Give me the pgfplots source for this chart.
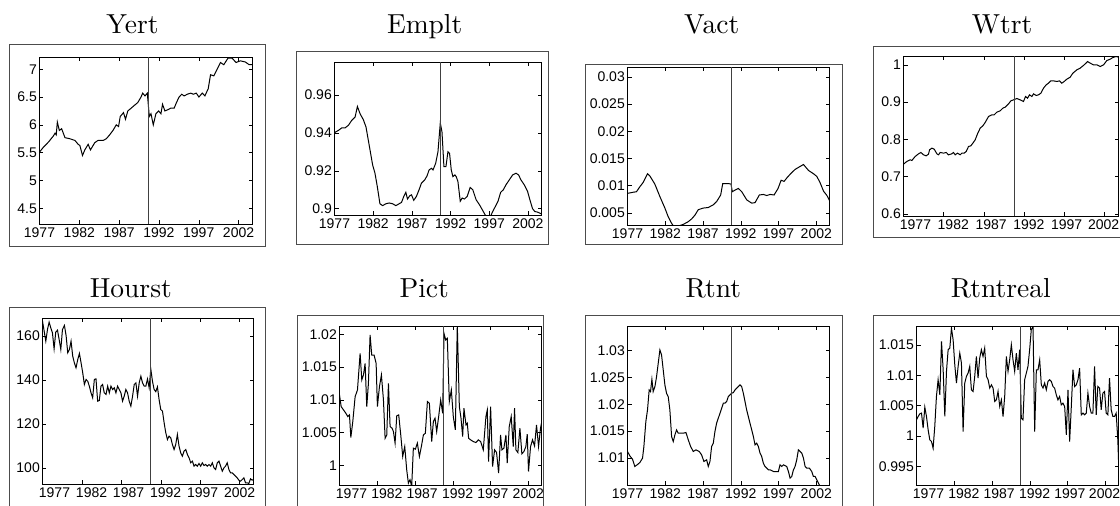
\documentclass[border=0pt]{standalone}
\usepackage{fontspec}
\usepackage{pgfplots}
\pgfplotsset{compat=1.18}
\newfontfamily\arial{Liberation Sans}
\newfontface\titlefont{lmroman10-regular.otf}
\tikzset{pfr/.style={black!70, line width=1.6pt}}
\pgfplotsset{
  panel/.style={
    scale only axis, anchor=south west,
    xmin=1977, xmax=2003.75,
    xtick={1977,1982,1987,1992,1997,2002},
    xticklabels={1977,1982,1987,1992,1997,2002},
    axis line style={line width=1.5pt, black},
    tick style={line width=0.5pt, black},
    major tick length=4pt,
    tick align=inside,
    scaled ticks=false,
    tick label style={font=\arial\fontsize{14}{14}\selectfont, text=black},
    xticklabel style={inner sep=3pt},
    yticklabel style={inner sep=2.5pt},
  },
  shiftedlabels/.style={
    xticklabels={},
    extra x ticks={#1},
    extra x tick labels={1977,1982,1987,1992,1997,2002},
    extra x tick style={grid=none, major tick length=0pt},
  },
  series/.style={black, line width=1pt, mark=none},
  vline/.style={black!75, line width=1pt, mark=none},
}
\begin{document}
\begin{tikzpicture}
\useasboundingbox (0pt,0pt) rectangle (1120pt,506pt);
% outer frames
\draw[pfr] (9.5pt,259.5pt) rectangle (265.5pt,461.5pt);
\draw[pfr] (296.5pt,261.5pt) rectangle (548.5pt,454.5pt);
\draw[pfr] (585.5pt,261.5pt) rectangle (842.5pt,441.5pt);
\draw[pfr] (1120pt,268.5pt) -- (873.5pt,268.5pt) -- (873.5pt,459.5pt) -- (1120pt,459.5pt);
\draw[pfr] (9.5pt,0pt) -- (9.5pt,198.5pt) -- (265.5pt,198.5pt) -- (265.5pt,0pt);
\draw[pfr] (297.5pt,0pt) -- (297.5pt,190.5pt) -- (543.5pt,190.5pt) -- (543.5pt,0pt);
\draw[pfr] (585.5pt,0pt) -- (585.5pt,190.5pt) -- (842.5pt,190.5pt) -- (842.5pt,0pt);
\draw[pfr] (873.5pt,0pt) -- (873.5pt,190.5pt) -- (1120pt,190.5pt);
% titles
\node[anchor=base, inner sep=0pt, font=\titlefont\fontsize{27.5}{30}\selectfont] at (132.5pt,472pt) {Yert};
\node[anchor=base, inner sep=0pt, font=\titlefont\fontsize{27.5}{30}\selectfont] at (424.7pt,472pt) {Emplt};
\node[anchor=base, inner sep=0pt, font=\titlefont\fontsize{27.5}{30}\selectfont] at (711.7pt,472pt) {Vact};
\node[anchor=base, inner sep=0pt, font=\titlefont\fontsize{27.5}{30}\selectfont] at (1002pt,472pt) {Wtrt};
\node[anchor=base, inner sep=0pt, font=\titlefont\fontsize{27.5}{30}\selectfont] at (130.8pt,208pt) {Hourst};
\node[anchor=base, inner sep=0pt, font=\titlefont\fontsize{27.5}{30}\selectfont] at (424.2pt,208pt) {Pict};
\node[anchor=base, inner sep=0pt, font=\titlefont\fontsize{27.5}{30}\selectfont] at (713.3pt,208pt) {Rtnt};
\node[anchor=base, inner sep=0pt, font=\titlefont\fontsize{27.5}{30}\selectfont] at (1000.8pt,208pt) {Rtntreal};

% Yert
\begin{axis}[panel, at={(39.5pt,281.5pt)}, width=213pt, height=167pt,
  ymin=4.21, ymax=7.21, ytick={4.5,5,5.5,6,6.5,7}, yticklabels={4.5,5,5.5,6,6.5,7}]
\addplot[series] coordinates {(1977.00,5.51) (1977.50,5.60) (1978.12,5.69) (1978.74,5.80) (1978.95,5.85) (1979.10,5.82) (1979.24,6.05) (1979.49,5.90) (1979.78,5.93) (1980.20,5.77) (1980.82,5.75) (1981.45,5.72) (1981.86,5.65) (1982.07,5.63) (1982.40,5.45) (1982.69,5.55) (1983.11,5.65) (1983.40,5.55) (1983.94,5.68) (1984.35,5.72) (1984.98,5.72) (1985.39,5.75) (1985.81,5.82) (1986.23,5.90) (1986.64,6.00) (1986.93,5.97) (1987.14,6.15) (1987.55,6.22) (1987.80,6.10) (1988.09,6.25) (1988.51,6.30) (1988.92,6.35) (1989.34,6.40) (1989.75,6.50) (1989.96,6.57) (1990.25,6.52) (1990.54,6.57) (1990.79,6.15) (1991.00,6.20) (1991.29,6.00) (1991.62,6.20) (1991.96,6.25) (1992.25,6.20) (1992.45,6.37) (1992.75,6.25) (1993.08,6.27) (1993.49,6.30) (1993.91,6.30) (1994.20,6.40) (1994.53,6.50) (1994.86,6.55) (1995.16,6.52) (1995.57,6.55) (1995.99,6.57) (1996.32,6.55) (1996.69,6.57) (1997.02,6.50) (1997.44,6.57) (1997.77,6.52) (1998.19,6.65) (1998.48,6.90) (1998.89,6.88) (1999.31,7.00) (1999.73,7.12) (2000.14,7.08) (2000.68,7.20) (2001.18,7.20) (2001.68,7.12) (2002.22,7.15) (2002.84,7.13) (2003.34,7.08) (2003.75,7.08)};
\addplot[vline] coordinates {(1990.75,4.21) (1990.75,7.21)};
\end{axis}

% Emplt
\begin{axis}[panel, at={(334.5pt,290.5pt)}, width=207pt, height=153pt,
  ymin=0.8964, ymax=0.9771, ytick={0.9,0.92,0.94,0.96}, yticklabels={0.9,0.92,0.94,0.96}]
\addplot[series] coordinates {(1977.00,0.9401) (1977.51,0.9413) (1977.94,0.9426) (1978.37,0.9426) (1978.80,0.9440) (1979.23,0.9466) (1979.66,0.9483) (1979.96,0.9539) (1980.30,0.9501) (1980.73,0.9469) (1981.07,0.9431) (1981.37,0.9361) (1981.67,0.9291) (1981.93,0.9230) (1982.23,0.9187) (1982.53,0.9117) (1982.87,0.9026) (1983.22,0.9016) (1983.64,0.9026) (1984.07,0.9030) (1984.50,0.9026) (1984.93,0.9016) (1985.36,0.9026) (1985.66,0.9033) (1985.96,0.9065) (1986.22,0.9086) (1986.43,0.9051) (1986.73,0.9068) (1986.95,0.9073) (1987.24,0.9044) (1987.59,0.9065) (1987.93,0.9100) (1988.23,0.9134) (1988.66,0.9152) (1988.96,0.9173) (1989.22,0.9204) (1989.52,0.9213) (1989.73,0.9204) (1990.07,0.9239) (1990.37,0.9300) (1990.67,0.9452) (1990.89,0.9405) (1991.14,0.9222) (1991.40,0.9222) (1991.66,0.9300) (1991.87,0.9291) (1992.09,0.9204) (1992.30,0.9169) (1992.56,0.9178) (1992.73,0.9169) (1992.95,0.9143) (1993.25,0.9039) (1993.50,0.9056) (1993.80,0.9051) (1994.15,0.9065) (1994.53,0.9112) (1994.87,0.9100) (1995.30,0.9047) (1995.73,0.9021) (1996.16,0.8990) (1996.50,0.8965) (1996.80,0.8950) (1997.10,0.8955) (1997.45,0.8985) (1997.79,0.9012) (1998.13,0.9039) (1998.47,0.9086) (1998.82,0.9100) (1999.16,0.9126) (1999.59,0.9152) (2000.02,0.9178) (2000.45,0.9187) (2000.79,0.9178) (2001.09,0.9152) (2001.52,0.9126) (2001.95,0.9091) (2002.25,0.9047) (2002.59,0.9000) (2002.89,0.8985) (2003.23,0.8982) (2003.45,0.8978) (2003.75,0.8972)};
\addplot[vline] coordinates {(1990.75,0.8964) (1990.75,0.9771)};
\end{axis}

% Vact
\begin{axis}[panel, at={(627.5pt,280.5pt)}, width=202pt, height=158pt,
  ymin=0.0027, ymax=0.0317, ytick={0.005,0.01,0.015,0.02,0.025,0.03}, yticklabels={0.005,0.01,0.015,0.02,0.025,0.03}]
\addplot[series] coordinates {(1977.00,0.0086) (1977.74,0.0088) (1978.19,0.0089) (1978.63,0.0098) (1979.07,0.0106) (1979.65,0.0122) (1979.96,0.0118) (1980.62,0.0103) (1981.29,0.0080) (1981.95,0.0059) (1982.39,0.0043) (1982.84,0.0031) (1983.14,0.0025) (1983.71,0.0026) (1984.38,0.0029) (1985.04,0.0034) (1985.49,0.0039) (1985.93,0.0046) (1986.37,0.0056) (1987.03,0.0059) (1987.70,0.0060) (1988.36,0.0065) (1988.81,0.0071) (1989.34,0.0083) (1989.61,0.0104) (1990.35,0.0104) (1990.71,0.0103) (1990.88,0.0089) (1991.24,0.0092) (1991.68,0.0095) (1992.13,0.0089) (1992.79,0.0074) (1993.45,0.0068) (1993.89,0.0069) (1994.46,0.0083) (1994.99,0.0084) (1995.44,0.0082) (1995.88,0.0084) (1996.41,0.0083) (1996.94,0.0095) (1997.34,0.0110) (1997.74,0.0108) (1998.14,0.0115) (1998.67,0.0123) (1999.20,0.0130) (2000.30,0.0139) (2000.97,0.0128) (2001.63,0.0122) (2002.08,0.0117) (2002.52,0.0105) (2002.96,0.0090) (2003.41,0.0082) (2003.75,0.0073)};
\addplot[vline] coordinates {(1990.75,0.0027) (1990.75,0.0317)};
\end{axis}

% Wtrt
\begin{axis}[panel, at={(903.5pt,289.5pt)}, width=215pt, height=160pt,
  shiftedlabels={1978.49,1983.19,1987.90,1992.60,1997.30,2001.90},
  ymin=0.5928, ymax=1.0224, ytick={0.6,0.7,0.8,0.9,1}, yticklabels={0.6,0.7,0.8,0.9,1}]
\addplot[series] coordinates {(1977.00,0.7333) (1977.41,0.7405) (1977.83,0.7450) (1978.04,0.7432) (1978.45,0.7539) (1978.87,0.7611) (1979.16,0.7647) (1979.49,0.7584) (1979.82,0.7557) (1980.11,0.7602) (1980.24,0.7718) (1980.53,0.7763) (1980.82,0.7736) (1981.15,0.7611) (1981.36,0.7584) (1981.56,0.7647) (1981.98,0.7629) (1982.31,0.7647) (1982.60,0.7584) (1983.01,0.7611) (1983.22,0.7647) (1983.43,0.7584) (1983.72,0.7629) (1984.05,0.7584) (1984.26,0.7629) (1984.55,0.7629) (1984.80,0.7673) (1985.09,0.7808) (1985.38,0.7826) (1985.63,0.7897) (1985.92,0.7987) (1986.21,0.8148) (1986.54,0.8300) (1986.87,0.8362) (1987.16,0.8452) (1987.58,0.8613) (1987.99,0.8658) (1988.28,0.8658) (1988.61,0.8729) (1989.03,0.8765) (1989.36,0.8837) (1989.65,0.8864) (1990.07,0.8953) (1990.36,0.9034) (1990.69,0.9060) (1991.10,0.9096) (1991.52,0.9060) (1991.93,0.9016) (1992.18,0.9150) (1992.43,0.9105) (1992.68,0.9195) (1992.97,0.9150) (1993.18,0.9221) (1993.51,0.9177) (1993.80,0.9195) (1994.09,0.9239) (1994.42,0.9374) (1994.75,0.9463) (1995.04,0.9508) (1995.33,0.9570) (1995.66,0.9570) (1996.08,0.9553) (1996.41,0.9570) (1996.70,0.9508) (1996.99,0.9553) (1997.32,0.9615) (1997.74,0.9669) (1998.07,0.9776) (1998.57,0.9866) (1998.98,0.9911) (1999.48,1.0000) (1999.90,1.0089) (2000.23,1.0045) (2000.64,1.0000) (2001.06,1.0000) (2001.47,0.9955) (2001.89,1.0000) (2002.30,1.0116) (2002.72,1.0152) (2003.05,1.0197) (2003.46,1.0224) (2003.75,1.0206)};
\addplot[vline] coordinates {(1990.75,0.5928) (1990.75,1.0224)};
\end{axis}

% Hourst
\begin{axis}[panel, at={(42.5pt,21.5pt)}, width=211pt, height=166pt,
  shiftedlabels={1978.52,1983.22,1987.91,1992.61,1997.30,2002.00},
  ymin=92.4, ymax=168.05, ytick={100,120,140,160}, yticklabels={100,120,140,160}]
\addplot[series] coordinates {(1977.00,166.84) (1977.21,162.28) (1977.42,157.72) (1977.63,163.04) (1977.84,166.38) (1978.05,163.80) (1978.26,161.52) (1978.47,154.23) (1978.68,161.82) (1978.90,162.73) (1979.11,158.48) (1979.32,153.92) (1979.53,163.04) (1979.78,164.86) (1979.99,160.30) (1980.20,152.40) (1980.41,153.92) (1980.62,157.72) (1980.83,150.89) (1981.04,147.85) (1981.25,145.57) (1981.47,149.37) (1981.68,152.10) (1981.89,147.85) (1982.10,143.29) (1982.31,137.97) (1982.52,140.25) (1982.73,139.49) (1982.94,137.21) (1983.15,134.18) (1983.36,131.90) (1983.57,140.25) (1983.78,140.56) (1983.99,130.38) (1984.20,130.68) (1984.41,137.21) (1984.62,137.97) (1984.83,134.18) (1985.05,133.42) (1985.26,137.21) (1985.47,134.18) (1985.68,137.21) (1985.89,135.70) (1986.10,136.45) (1986.31,134.18) (1986.52,137.21) (1986.73,135.70) (1986.94,134.18) (1987.15,130.38) (1987.36,132.66) (1987.57,135.70) (1987.78,134.18) (1987.99,130.38) (1988.20,128.10) (1988.42,132.66) (1988.63,137.97) (1988.84,138.73) (1989.05,132.66) (1989.26,138.73) (1989.47,141.77) (1989.68,138.73) (1989.89,137.21) (1990.10,137.20) (1990.31,140.50) (1990.52,136.50) (1990.73,145.00) (1990.94,139.50) (1991.15,135.70) (1991.36,134.70) (1991.57,136.90) (1991.78,131.14) (1991.99,126.58) (1992.21,125.82) (1992.42,120.50) (1992.63,115.95) (1992.84,112.91) (1993.05,114.43) (1993.26,113.67) (1993.47,110.63) (1993.68,108.35) (1993.89,110.63) (1994.10,115.19) (1994.31,109.87) (1994.52,106.83) (1994.73,105.31) (1994.94,107.59) (1995.16,108.35) (1995.37,106.07) (1995.58,104.55) (1995.79,102.28) (1996.00,103.04) (1996.21,100.76) (1996.42,101.52) (1996.63,100.76) (1996.84,101.97) (1997.05,100.76) (1997.26,102.28) (1997.47,101.06) (1997.68,101.52) (1997.89,100.76) (1998.11,101.52) (1998.32,100.76) (1998.53,102.28) (1998.74,100.00) (1998.95,99.24) (1999.16,102.28) (1999.37,103.04) (1999.58,100.76) (1999.79,98.48) (2000.00,100.00) (2000.21,100.76) (2000.42,102.28) (2000.63,99.24) (2000.84,97.72) (2001.05,97.72) (2001.26,96.96) (2001.47,96.20) (2001.68,95.44) (2001.89,94.38) (2002.11,93.92) (2002.32,94.68) (2002.53,95.44) (2002.74,93.16) (2002.95,93.16) (2003.16,92.86) (2003.37,94.98) (2003.58,94.38) (2003.75,94.68)};
\addplot[vline] coordinates {(1990.75,92.4) (1990.75,168.05)};
\end{axis}

% Pict
\begin{axis}[panel, at={(339.5pt,20.5pt)}, width=202pt, height=159pt,
  shiftedlabels={1978.59,1983.27,1987.95,1992.64,1997.32,2002.00},
  ymin=0.99695, ymax=1.0212, ytick={1,1.005,1.01,1.015,1.02}, yticklabels={1,1.005,1.01,1.015,1.02}]
\addplot[series] coordinates {(1977.00,1.01076) (1977.22,1.00898) (1977.53,1.00848) (1977.84,1.00797) (1978.10,1.00746) (1978.32,1.00772) (1978.50,1.00426) (1978.76,1.00670) (1979.07,1.01051) (1979.38,1.01152) (1979.73,1.01711) (1979.95,1.01305) (1980.17,1.01381) (1980.39,1.01558) (1980.61,1.00898) (1980.83,1.01254) (1981.05,1.01990) (1981.27,1.01685) (1981.58,1.01685) (1981.85,1.01558) (1982.02,1.00898) (1982.29,1.01203) (1982.55,1.01381) (1982.82,1.01000) (1983.04,1.00416) (1983.26,1.00467) (1983.48,1.01254) (1983.70,1.00594) (1983.96,1.00569) (1984.14,1.00518) (1984.36,1.00340) (1984.58,1.00756) (1984.84,1.00772) (1985.11,1.00467) (1985.37,1.00137) (1985.64,1.00289) (1985.90,0.99934) (1986.12,0.99731) (1986.34,0.99782) (1986.56,0.99680) (1986.78,1.00264) (1987.05,1.00249) (1987.31,1.00340) (1987.58,1.00137) (1987.84,1.00289) (1988.11,1.00467) (1988.37,1.00492) (1988.64,1.00975) (1988.90,1.00949) (1989.21,1.00365) (1989.43,1.00670) (1989.65,1.00721) (1989.87,1.00518) (1990.13,1.00746) (1990.40,1.01000) (1990.66,1.00797) (1990.84,1.02015) (1991.06,1.01914) (1991.28,1.01939) (1991.54,1.00975) (1991.81,1.01152) (1992.07,1.00746) (1992.34,1.00543) (1992.60,1.02142) (1992.87,1.00898) (1993.09,1.00721) (1993.31,1.00442) (1993.48,1.00873) (1993.75,1.00619) (1993.92,1.00645) (1994.10,1.00416) (1994.36,1.00391) (1994.72,1.00365) (1995.07,1.00350) (1995.38,1.00391) (1995.69,1.00365) (1996.04,1.00239) (1996.39,1.00746) (1996.57,1.00848) (1996.74,1.00061) (1997.01,1.00898) (1997.27,0.99985) (1997.54,1.00239) (1997.80,1.00198) (1998.07,0.99883) (1998.33,1.00467) (1998.51,1.00239) (1998.77,1.00264) (1999.04,1.00467) (1999.21,1.00036) (1999.48,1.00594) (1999.74,1.00746) (2000.01,1.00289) (2000.18,1.00873) (2000.36,1.00239) (2000.62,1.00198) (2000.89,1.00569) (2001.15,1.00178) (2001.42,1.00213) (2001.68,1.00289) (2001.86,1.00477) (2002.03,0.99909) (2002.30,1.00289) (2002.56,1.00391) (2002.83,1.00299) (2003.09,1.00619) (2003.36,1.00289) (2003.62,1.00569) (2003.75,1.00645)};
\addplot[vline] coordinates {(1990.75,0.99695) (1990.75,1.0212)};
\end{axis}

% Rtnt
\begin{axis}[panel, at={(627.5pt,20.5pt)}, width=202pt, height=159pt,
  ymin=1.00484, ymax=1.0345, ytick={1.01,1.015,1.02,1.025,1.03}, yticklabels={1.01,1.015,1.02,1.025,1.03}]
\addplot[series] coordinates {(1977.00,1.01118) (1977.31,1.01037) (1977.66,1.00975) (1977.97,1.00839) (1978.28,1.00870) (1978.64,1.00913) (1978.99,1.00994) (1979.17,1.01211) (1979.43,1.01677) (1979.65,1.01894) (1979.87,1.02267) (1980.05,1.02236) (1980.23,1.02466) (1980.40,1.02236) (1980.63,1.02329) (1980.85,1.02516) (1981.07,1.02764) (1981.29,1.03012) (1981.51,1.02919) (1981.73,1.02640) (1981.95,1.02360) (1982.17,1.02205) (1982.39,1.02143) (1982.61,1.01894) (1982.84,1.01398) (1983.06,1.01304) (1983.28,1.01429) (1983.50,1.01522) (1983.72,1.01460) (1984.03,1.01460) (1984.38,1.01460) (1984.74,1.01472) (1985.05,1.01335) (1985.36,1.01211) (1985.71,1.01118) (1986.06,1.01149) (1986.50,1.01118) (1986.81,1.01056) (1987.12,1.00932) (1987.48,1.00963) (1987.70,1.00839) (1987.92,1.00932) (1988.14,1.01211) (1988.36,1.01273) (1988.58,1.01491) (1988.80,1.01646) (1989.02,1.01739) (1989.25,1.01832) (1989.47,1.01925) (1989.69,1.02019) (1989.91,1.02019) (1990.13,1.02050) (1990.35,1.02143) (1990.57,1.02174) (1990.80,1.02205) (1991.01,1.02217) (1991.24,1.02267) (1991.46,1.02298) (1991.68,1.02329) (1991.90,1.02360) (1992.12,1.02329) (1992.34,1.02205) (1992.56,1.02050) (1992.78,1.01894) (1993.00,1.01770) (1993.22,1.01646) (1993.45,1.01522) (1993.67,1.01398) (1993.89,1.01242) (1994.11,1.01273) (1994.33,1.01211) (1994.55,1.01087) (1994.77,1.01025) (1994.99,1.00901) (1995.21,1.00839) (1995.44,1.00807) (1995.66,1.00776) (1995.88,1.00776) (1996.32,1.00745) (1996.67,1.00745) (1996.98,1.00745) (1997.20,1.00870) (1997.42,1.00839) (1997.65,1.00870) (1998.09,1.00839) (1998.31,1.00745) (1998.53,1.00621) (1998.75,1.00652) (1998.97,1.00776) (1999.19,1.00839) (1999.41,1.00963) (1999.63,1.01149) (1999.86,1.01118) (2000.08,1.01087) (2000.30,1.00994) (2000.52,1.00839) (2000.74,1.00807) (2001.09,1.00807) (2001.40,1.00745) (2001.62,1.00652) (2001.85,1.00652) (2002.07,1.00590) (2002.29,1.00528) (2002.51,1.00466) (2002.73,1.00466) (2003.17,1.00466) (2003.75,1.00466)};
\addplot[vline] coordinates {(1990.75,1.00484) (1990.75,1.0345)};
\end{axis}

% Rtntreal
\begin{axis}[panel, at={(916.5pt,20.5pt)}, width=202pt, height=159pt,
  shiftedlabels={1978.59,1983.27,1987.95,1992.64,1997.32,2001.90},
  ymin=0.99188, ymax=1.0180, ytick={0.995,1,1.005,1.01,1.015}, yticklabels={0.995,1,1.005,1.01,1.015}]
\addplot[series] coordinates {(1977.00,1.00267) (1977.22,1.00322) (1977.44,1.00366) (1977.66,1.00377) (1977.88,1.00130) (1978.10,1.00475) (1978.32,1.00322) (1978.54,1.00103) (1978.76,0.99938) (1978.98,0.99911) (1979.20,0.99801) (1979.42,1.00158) (1979.64,1.00651) (1979.86,1.00925) (1980.09,1.00678) (1980.31,1.01555) (1980.53,1.01089) (1980.75,1.00322) (1980.97,1.01062) (1981.19,1.01418) (1981.41,1.01445) (1981.63,1.01774) (1981.85,1.01582) (1982.07,1.01171) (1982.29,1.00870) (1982.51,1.01144) (1982.73,1.01363) (1982.95,1.01199) (1983.17,1.00075) (1983.39,1.00870) (1983.61,1.00979) (1983.83,1.01034) (1984.05,1.01144) (1984.27,1.00760) (1984.49,1.00733) (1984.71,1.00979) (1984.93,1.01308) (1985.15,1.00952) (1985.37,1.01281) (1985.59,1.01418) (1985.81,1.01308) (1986.03,1.01445) (1986.26,1.00979) (1986.48,1.00925) (1986.70,1.00788) (1986.92,1.00842) (1987.14,1.00788) (1987.36,1.00568) (1987.58,1.00596) (1987.80,1.00733) (1988.02,1.00486) (1988.24,1.00596) (1988.46,1.00322) (1988.68,1.00651) (1988.90,1.01308) (1989.12,1.01062) (1989.34,1.01253) (1989.56,1.01500) (1989.78,1.01253) (1990.00,1.01062) (1990.22,1.01363) (1990.44,1.01089) (1990.66,1.01418) (1990.88,1.00295) (1991.10,1.00267) (1991.32,1.00925) (1991.54,1.01034) (1991.76,1.01144) (1991.98,1.01418) (1992.20,1.01747) (1992.43,1.01801) (1992.65,1.00075) (1992.87,1.01089) (1993.09,1.01089) (1993.31,1.01253) (1993.53,1.00842) (1993.75,1.00788) (1993.97,1.00870) (1994.19,1.00760) (1994.41,1.00897) (1994.63,1.00925) (1994.85,1.00897) (1995.07,1.00815) (1995.29,1.00788) (1995.51,1.00678) (1995.73,1.00596) (1995.95,1.00651) (1996.17,1.00514) (1996.39,1.00541) (1996.62,1.00486) (1996.84,1.00021) (1997.06,1.00760) (1997.28,0.99911) (1997.50,1.00486) (1997.72,1.01089) (1997.94,1.00815) (1998.16,1.00842) (1998.38,1.00925) (1998.60,1.01116) (1998.82,1.00349) (1999.04,1.00377) (1999.26,1.00349) (1999.48,1.00377) (1999.70,1.00705) (1999.92,1.00486) (2000.14,1.00377) (2000.36,1.00377) (2000.58,1.01144) (2000.80,1.00349) (2001.01,1.00815) (2001.24,1.00788) (2001.46,1.00432) (2001.68,1.00705) (2001.90,1.00733) (2002.12,1.00377) (2002.34,1.00349) (2002.56,1.00952) (2002.78,1.00432) (2003.00,1.00322) (2003.22,1.00322) (2003.44,1.00377) (2003.66,0.99938) (2003.75,0.99610)};
\addplot[vline] coordinates {(1990.75,0.99188) (1990.75,1.0180)};
\end{axis}
\end{tikzpicture}
\end{document}
